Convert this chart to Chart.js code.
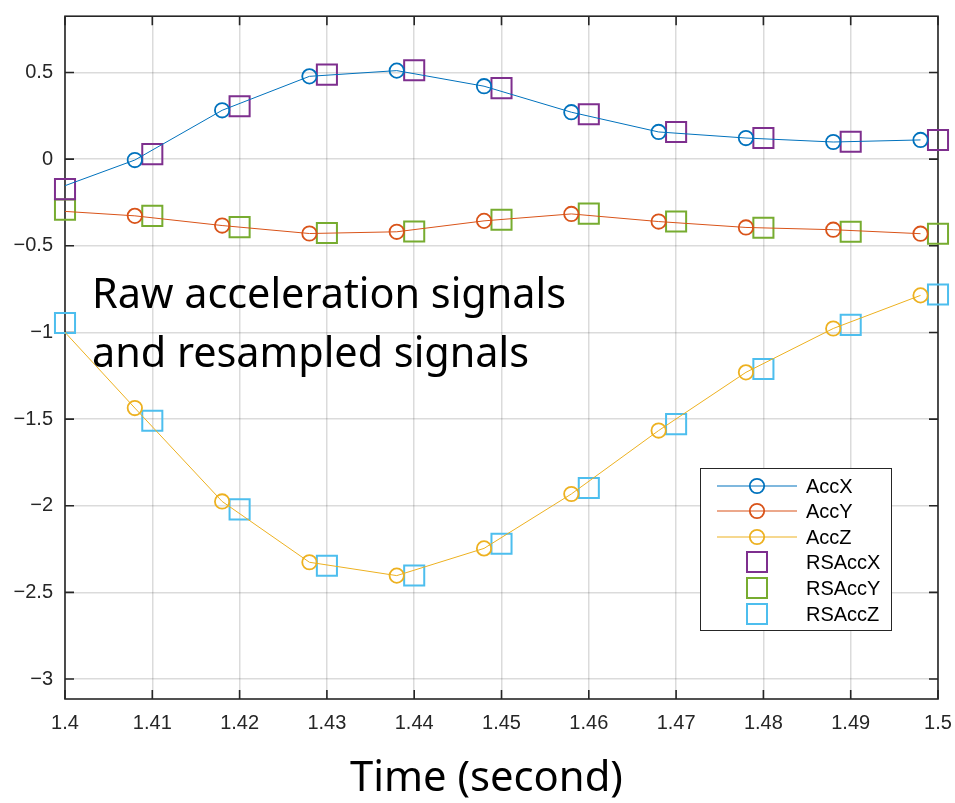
<!DOCTYPE html>
<html><head><meta charset="utf-8">
<script src="https://cdn.jsdelivr.net/npm/chart.js@4.4.1/dist/chart.umd.min.js"></script>
<style>html,body{margin:0;padding:0;background:#fff}</style>
</head><body>
<canvas id="c" width="955" height="803" style="display:block;width:955px;height:803px"></canvas>
<script>
// ---- data ----
const rawTime = [1.398, 1.408, 1.418, 1.428, 1.438, 1.448, 1.458, 1.468, 1.478, 1.488, 1.498];
const accX = [-0.19, -0.005, 0.282, 0.478, 0.511, 0.421, 0.271, 0.157, 0.122, 0.099, 0.111];
const accY = [-0.295, -0.327, -0.383, -0.429, -0.419, -0.356, -0.316, -0.36, -0.394, -0.407, -0.43];
const accZ = [-0.89, -1.436, -1.975, -2.326, -2.403, -2.246, -1.932, -1.566, -1.23, -0.977, -0.786];
const rsTime = [1.40, 1.41, 1.42, 1.43, 1.44, 1.45, 1.46, 1.47, 1.48, 1.49, 1.50];
const rsAccX = [-0.173, 0.029, 0.305, 0.488, 0.513, 0.41, 0.259, 0.157, 0.122, 0.101, 0.111];
const rsAccY = [-0.291, -0.327, -0.392, -0.426, -0.417, -0.35, -0.314, -0.36, -0.396, -0.419, -0.43];
const rsAccZ = [-0.945, -1.509, -2.021, -2.346, -2.402, -2.219, -1.897, -1.529, -1.211, -0.956, -0.781];
const xTickValues = [1.40, 1.41, 1.42, 1.43, 1.44, 1.45, 1.46, 1.47, 1.48, 1.49, 1.50];
const xTickLabels = ['1.4', '1.41', '1.42', '1.43', '1.44', '1.45', '1.46', '1.47', '1.48', '1.49', '1.5'];
const yTickValues = [-3, -2.5, -2, -1.5, -1, -0.5, 0, 0.5];
const yTickLabels = ['\u22123', '\u22122.5', '\u22122', '\u22121.5', '\u22121', '\u22120.5', '0', '0.5'];
const seriesNames = ['AccX', 'AccY', 'AccZ', 'RSAccX', 'RSAccY', 'RSAccZ'];
const annotationLines = ['Raw acceleration signals', 'and resampled signals'];
const xAxisTitle = 'Time (second)';

// ---- styles ----
const colors = ['#0072BD', '#D95319', '#EDB120', '#7E2F8E', '#77AC30', '#4DBEEE'];
const pts = (xs, ys) => xs.map((x, i) => ({x: x, y: ys[i]}));
const rawSets = [accX, accY, accZ];
const rsSets = [rsAccX, rsAccY, rsAccZ];
const datasets = [];
rawSets.forEach((ys, i) => datasets.push({
  label: seriesNames[i], data: pts(rawTime, ys), showLine: true,
  borderColor: colors[i], backgroundColor: 'rgba(0,0,0,0)', borderWidth: 1,
  pointStyle: 'circle', pointRadius: rawTime.map(t => t < 1.4 ? 0 : 7.2),
  pointBorderWidth: 1.8, pointBorderColor: colors[i], pointBackgroundColor: 'rgba(0,0,0,0)',
  tension: 0, clip: {left: 0, top: 30, right: 30, bottom: 30}
}));
rsSets.forEach((ys, i) => datasets.push({
  label: seriesNames[i + 3], data: pts(rsTime, ys), showLine: false,
  borderColor: colors[i + 3], backgroundColor: 'rgba(0,0,0,0)',
  pointStyle: 'rect', pointRadius: 14.2, pointBorderWidth: 2,
  pointBorderColor: colors[i + 3], pointBackgroundColor: 'rgba(0,0,0,0)', clip: false
}));

const frame = {
  id: 'frame',
  beforeDatasetsDraw(chart) {
    const {ctx, chartArea: a, scales} = chart;
    ctx.save();
    ctx.strokeStyle = '#262626';
    ctx.lineWidth = 1.6;
    ctx.strokeRect(a.left, a.top, a.right - a.left, a.bottom - a.top);
    const L = 9;
    ctx.beginPath();
    xTickValues.forEach(v => {
      const px = scales.x.getPixelForValue(v);
      ctx.moveTo(px, a.bottom); ctx.lineTo(px, a.bottom - L);
      ctx.moveTo(px, a.top); ctx.lineTo(px, a.top + L);
    });
    yTickValues.forEach(v => {
      const py = scales.y.getPixelForValue(v);
      ctx.moveTo(a.left, py); ctx.lineTo(a.left + L, py);
      ctx.moveTo(a.right, py); ctx.lineTo(a.right - L, py);
    });
    ctx.stroke();
    ctx.restore();
  }
};

const overlay = {
  id: 'overlay',
  afterDraw(chart) {
    const ctx = chart.ctx;
    ctx.save();
    // annotation text
    const fam = '"Noto Sans", "Open Sans", sans-serif';
    ctx.font = '36px ' + fam;
    const w1 = ctx.measureText(annotationLines[0]).width;
    const fs = 36 * 474 / w1;
    ctx.font = fs.toFixed(2) + 'px ' + fam;
    ctx.fillStyle = '#000';
    ctx.textAlign = 'left';
    ctx.textBaseline = 'alphabetic';
    ctx.fillText(annotationLines[0], 92, 308);
    ctx.fillText(annotationLines[1], 92, 367);
    // x axis title
    ctx.font = '36px ' + fam;
    const wt = ctx.measureText(xAxisTitle).width;
    ctx.font = (36 * 273 / wt).toFixed(2) + 'px ' + fam;
    ctx.fillText(xAxisTitle, 350, 791);
    // legend
    const bx = 700, by = 468, bw = 191, bh = 162;
    ctx.fillStyle = '#fff';
    ctx.fillRect(bx, by, bw, bh);
    ctx.strokeStyle = '#262626';
    ctx.lineWidth = 1;
    ctx.strokeRect(bx + 0.5, by + 0.5, bw, bh);
    ctx.font = '20px "Liberation Sans", Arial, sans-serif';
    ctx.textBaseline = 'middle';
    const rowY = [486, 511, 537, 562, 588, 614];
    seriesNames.forEach((name, i) => {
      const y = rowY[i];
      const c = colors[i];
      ctx.strokeStyle = c;
      if (i < 3) {
        ctx.lineWidth = 1.2;
        ctx.beginPath(); ctx.moveTo(717, y); ctx.lineTo(797, y); ctx.stroke();
        ctx.lineWidth = 1.8;
        ctx.beginPath(); ctx.arc(757, y, 7.2, 0, Math.PI * 2); ctx.stroke();
      } else {
        ctx.lineWidth = 2;
        ctx.strokeRect(757 - 10, y - 10, 20, 20);
      }
      ctx.fillStyle = '#000';
      ctx.fillText(name, 806, y + 1);
    });
    ctx.restore();
  }
};

new Chart(document.getElementById('c'), {
  type: 'scatter',
  data: {datasets: datasets},
  options: {
    responsive: false, animation: false, devicePixelRatio: 1,
    layout: {padding: {top: 10, right: 17, left: 0, bottom: 0}},
    plugins: {legend: {display: false}, tooltip: {enabled: false}},
    scales: {
      x: {
        type: 'linear', min: 1.4, max: 1.5,
        afterBuildTicks: s => { s.ticks = xTickValues.map(v => ({value: v})); },
        afterFit: s => { s.height = 104; s.paddingLeft = 0; s.paddingRight = 0; },
        ticks: {callback: (v, i) => xTickLabels[i], autoSkip: false, maxRotation: 0,
          font: {family: '"Liberation Sans", Arial, sans-serif', size: 20}, color: '#262626', padding: 12},
        grid: {color: 'rgba(0,0,0,0.14)', lineWidth: 1.5, drawTicks: false},
        border: {display: false}
      },
      y: {
        type: 'linear', min: -3.115, max: 0.825,
        afterBuildTicks: s => { s.ticks = yTickValues.map(v => ({value: v})); },
        afterFit: s => { s.width = 65; s.paddingTop = 0; s.paddingBottom = 0; },
        ticks: {callback: (v, i) => yTickLabels[i], autoSkip: false,
          font: {family: '"Liberation Sans", Arial, sans-serif', size: 20}, color: '#262626', padding: 12},
        grid: {color: 'rgba(0,0,0,0.14)', lineWidth: 1.5, drawTicks: false},
        border: {display: false}
      }
    }
  },
  plugins: [frame, overlay]
});
</script>
</body></html>
